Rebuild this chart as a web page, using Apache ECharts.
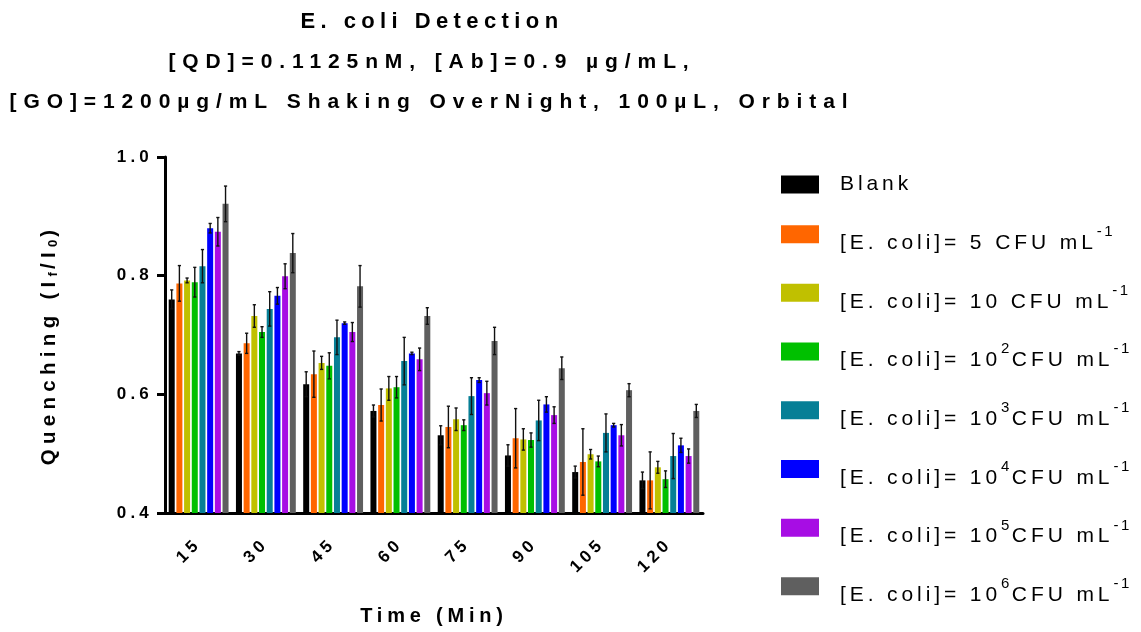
<!DOCTYPE html>
<html><head><meta charset="utf-8">
<script src="https://cdn.jsdelivr.net/npm/echarts@6/dist/echarts.min.js"></script>
<style>html,body{margin:0;padding:0;background:#fff}#c{width:1141px;height:632px}</style>
</head><body><div id="c"></div>
<script>
// ---------- data ----------
const categories = ['15', '30', '45', '60', '75', '90', '105', '120'];
const seriesNames = ['Blank', '[E. coli]= 5 CFU mL⁻¹', '[E. coli]= 10 CFU mL⁻¹', '[E. coli]= 10²CFU mL⁻¹',
  '[E. coli]= 10³CFU mL⁻¹', '[E. coli]= 10⁴CFU mL⁻¹', '[E. coli]= 10⁵CFU mL⁻¹', '[E. coli]= 10⁶CFU mL⁻¹'];
const concText = ['', '5 ', '10 ', '10', '10', '10', '10', '10'];
const concExp = ['', '', '', '2', '3', '4', '5', '6'];
const colors = ['#000000', '#FF6600', '#C0C000', '#00C000', '#067F96', '#0000FF', '#A70DE4', '#5F5F5F'];

const blank     = [0.760, 0.669, 0.617, 0.572, 0.531, 0.497, 0.469, 0.455];
const blankErr  = [0.016, 0.003, 0.021, 0.010, 0.016, 0.018, 0.010, 0.014];
const cfu5      = [0.787, 0.686, 0.634, 0.582, 0.545, 0.526, 0.486, 0.455];
const cfu5Err   = [0.030, 0.017, 0.039, 0.027, 0.035, 0.050, 0.056, 0.048];
const cfu10     = [0.792, 0.732, 0.653, 0.610, 0.558, 0.524, 0.499, 0.477];
const cfu10Err  = [0.004, 0.019, 0.011, 0.020, 0.019, 0.018, 0.008, 0.010];
const cfu1e2    = [0.789, 0.705, 0.648, 0.612, 0.548, 0.523, 0.487, 0.457];
const cfu1e2Err = [0.025, 0.009, 0.022, 0.018, 0.009, 0.012, 0.009, 0.014];
const cfu1e3    = [0.816, 0.744, 0.696, 0.656, 0.597, 0.556, 0.535, 0.496];
const cfu1e3Err = [0.028, 0.029, 0.029, 0.040, 0.031, 0.034, 0.032, 0.038];
const cfu1e4    = [0.880, 0.766, 0.720, 0.669, 0.624, 0.583, 0.548, 0.514];
const cfu1e4Err = [0.008, 0.014, 0.002, 0.002, 0.004, 0.013, 0.003, 0.012];
const cfu1e5    = [0.874, 0.799, 0.705, 0.659, 0.602, 0.565, 0.531, 0.496];
const cfu1e5Err = [0.024, 0.021, 0.016, 0.019, 0.020, 0.014, 0.018, 0.012];
const cfu1e6    = [0.921, 0.838, 0.782, 0.732, 0.690, 0.644, 0.607, 0.572];
const cfu1e6Err = [0.030, 0.033, 0.035, 0.014, 0.023, 0.019, 0.011, 0.011];

const yTicks = [0.4, 0.6, 0.8, 1.0];

const values = [blank, cfu5, cfu10, cfu1e2, cfu1e3, cfu1e4, cfu1e5, cfu1e6];
const errors = [blankErr, cfu5Err, cfu10Err, cfu1e2Err, cfu1e3Err, cfu1e4Err, cfu1e5Err, cfu1e6Err];

// ---------- letter spacing (the reference text is widely tracked) ----------
(function () {
  const P = CanvasRenderingContext2D.prototype;
  if (!('letterSpacing' in P)) return;
  const boldMap = { '220': 5.4, '210': 6.9, '200': 4.8, '205': 5.3, '170': 4.2, '130': 3.0 };
  const normMap = { '210': 3.9, '150': 2.5 };
  function sp(ctx) {
    const f = ctx.font || '';
    const m = f.match(/(\d+(?:\.\d+)?)px/);
    const size = m ? parseFloat(m[1]) : 12;
    const bold = /bold|[6-9]00/.test(f);
    const key = String(Math.round(size * 10));
    let v = bold ? boldMap[key] : normMap[key];
    if (v == null) v = bold ? size * 0.25 : size * 0.18;
    ctx.letterSpacing = v.toFixed(2) + 'px';
  }
  ['fillText', 'strokeText', 'measureText'].forEach(function (k) {
    const o = P[k];
    P[k] = function () { sp(this); return o.apply(this, arguments); };
  });
})();

const FONT = "'Liberation Sans', Arial, sans-serif";
const CAT_GAP = 0.11, BAR_GAP = 0.28, N = values.length;

const chart = echarts.init(document.getElementById('c'), null, { renderer: 'canvas' });

const series = [];
values.forEach(function (v, si) {
  series.push({
    type: 'bar', name: seriesNames[si], data: v,
    itemStyle: { color: colors[si] },
    barGap: (BAR_GAP * 100) + '%', barCategoryGap: (CAT_GAP * 100) + '%',
    z: 2
  });
});
values.forEach(function (v, si) {
  series.push({
    type: 'custom', name: 'err' + si,
    data: v.map(function (val, i) { return [i, val, errors[si][i]]; }),
    encode: { x: 0, y: 1 },
    z: 3,
    renderItem: function (params, api) {
      const ci = api.value(0), val = api.value(1), e = api.value(2);
      const band = api.size([1, 0])[0];
      const gw = band * (1 - CAT_GAP);
      const w = gw / (N + (N - 1) * BAR_GAP);
      const cx = api.coord([ci, val])[0] - gw / 2 + w / 2 + si * w * (1 + BAR_GAP);
      const yt = api.coord([ci, val + e])[1];
      const yb = api.coord([ci, val - e])[1];
      const st = { stroke: '#111', lineWidth: 1.4 };
      const c = 1.6;
      return {
        type: 'group', children: [
          { type: 'line', shape: { x1: cx, y1: yt, x2: cx, y2: yb }, style: st },
          { type: 'line', shape: { x1: cx - c, y1: yt, x2: cx + c, y2: yt }, style: st },
          { type: 'line', shape: { x1: cx - c, y1: yb, x2: cx + c, y2: yb }, style: st }
        ]
      };
    }
  });
});

const option = {
  animation: false,
  backgroundColor: '#fff',
  textStyle: { fontFamily: FONT },
  title: {
    text: '{t1|E. coli Detection}\n{t2|[QD]=0.1125nM, [Ab]=0.9 µg/mL,}\n{t2|[GO]=1200µg/mL Shaking OverNight, 100µL, Orbital}',
    left: 432, top: 2, textAlign: 'center', padding: 0,
    textStyle: {
      fontFamily: FONT, fontWeight: 'bold', fontSize: 21, lineHeight: 40, color: '#000',
      rich: {
        t1: { fontFamily: FONT, fontWeight: 'bold', fontSize: 22, lineHeight: 40, color: '#000' },
        t2: { fontFamily: FONT, fontWeight: 'bold', fontSize: 21, lineHeight: 40, color: '#000' }
      }
    }
  },
  legend: {
    orient: 'vertical', left: 781, top: 172, padding: 0, itemGap: 15.8,
    itemWidth: 38, itemHeight: 18, icon: 'rect',
    data: seriesNames,
    formatter: function (name) {
      const i = seriesNames.indexOf(name);
      if (i === 0) return '{b|Blank}';
      if (concExp[i]) return '{m0|[E. coli]= ' + concText[i] + '}{s|' + concExp[i] + '}{m|CFU mL}{s|-1}';
      return '{m0|[E. coli]= ' + concText[i] + 'CFU mL}{s|-1}';
    },
    textStyle: {
      fontFamily: FONT, color: '#000',
      rich: {
        b: { fontFamily: FONT, fontSize: 21, lineHeight: 42, padding: [0, 0, 0, 16], color: '#000' },
        m0: { fontFamily: FONT, fontSize: 21, lineHeight: 22, padding: [18, 0, 0, 16], color: '#000' },
        m: { fontFamily: FONT, fontSize: 21, lineHeight: 22, padding: [18, 0, 0, 0], color: '#000' },
        s: { fontFamily: FONT, fontSize: 15, lineHeight: 15, padding: [0, 0, 0, 0], verticalAlign: 'top', color: '#000' }
      }
    }
  },
  grid: { left: 165, right: 438, top: 157, bottom: 119, containLabel: false, outerBoundsMode: 'none' },
  xAxis: {
    type: 'category', data: categories,
    axisLine: { lineStyle: { color: '#000', width: 3 } },
    axisTick: { alignWithLabel: true, length: 7, lineStyle: { color: '#000', width: 3 } },
    axisLabel: { rotate: 45, margin: 28, color: '#000', fontFamily: FONT, fontWeight: 'bold', fontSize: 17 },
    name: 'Time (Min)', nameLocation: 'middle', nameGap: 91,
    nameTextStyle: { color: '#000', fontFamily: FONT, fontWeight: 'bold', fontSize: 20 }
  },
  yAxis: {
    type: 'value', min: yTicks[0], max: yTicks[yTicks.length - 1], interval: 0.2,
    axisLine: { show: true, lineStyle: { color: '#000', width: 3 } },
    axisTick: { show: true, length: 8, lineStyle: { color: '#000', width: 3 } },
    splitLine: { show: false },
    axisLabel: {
      margin: 12, color: '#000', fontFamily: FONT, fontWeight: 'bold', fontSize: 17,
      formatter: function (v) { return v.toFixed(1); }
    },
    name: '{a|Quenching (I}{b|f}{a|/I}{b|0}{a|)}', nameLocation: 'middle', nameGap: 104, nameRotate: 90,
    nameTextStyle: {
      color: '#000', fontFamily: FONT, fontWeight: 'bold', fontSize: 20.5,
      padding: [0, 20, 0, 0],
      rich: {
        a: { fontFamily: FONT, fontWeight: 'bold', fontSize: 20.5, lineHeight: 24, color: '#000' },
        b: { fontFamily: FONT, fontWeight: 'bold', fontSize: 13, lineHeight: 14, verticalAlign: 'bottom', color: '#000' }
      }
    }
  },
  series: series
};
chart.setOption(option);
</script>
</body></html>
